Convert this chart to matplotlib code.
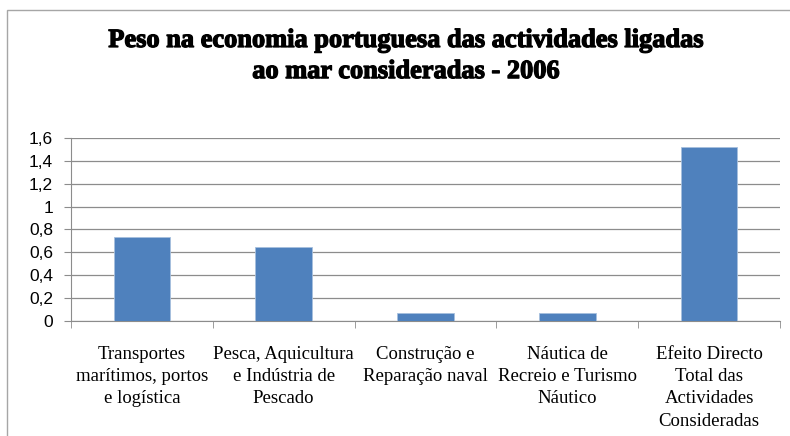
import matplotlib.pyplot as plt
import matplotlib.ticker
import matplotlib.patheffects as pe
from matplotlib.patches import Rectangle
import numpy as np

categories = [
    "Transportes\nmarítimos, portos\ne logística",
    "Pesca, Aquicultura\ne Indústria de\nPescado",
    "Construção e\nReparação naval",
    "Náutica de\nRecreio e Turismo\nNáutico",
    "Efeito Directo\nTotal das\nActividades\nConsideradas",
]
values = [0.73, 0.65, 0.07, 0.07, 1.52]
y_ticks = [0, 0.2, 0.4, 0.6, 0.8, 1.0, 1.2, 1.4, 1.6]

title = "Peso na economia portuguesa das actividades ligadas\nao mar consideradas - 2006"

bar_color = "#4F81BD"
grid_color = "#8C8C8C"
serif = ["Liberation Serif", "DejaVu Serif"]

fig = plt.figure(figsize=(7.9, 4.36), dpi=100)
fig.patch.set_facecolor("white")

# outer chart border (cropped on right and bottom in the original)
fig.patches.append(Rectangle((7 / 790, -0.05), 1.0, 1 - 10 / 436 + 0.05,
                             transform=fig.transFigure, fill=False,
                             edgecolor="#A6A6A6", linewidth=1.0))

ax = fig.add_axes([71 / 790, 0.2638, 709 / 790, 0.4197])
x = np.arange(len(values))
ax.bar(x, values, width=0.4, color=bar_color, edgecolor="#A7C0DE",
       linewidth=0.6, zorder=3)

ax.set_xlim(-0.5, len(values) - 0.5)
ax.set_ylim(0, 1.6)
ax.set_yticks(y_ticks)
ax.yaxis.set_major_formatter(matplotlib.ticker.FuncFormatter(
    lambda v, p: ("%g" % round(v, 1)).replace(".", ",")))
ax.grid(axis="y", color=grid_color, linewidth=0.9, zorder=0)

ax.set_xticks(x)
ax.set_xticklabels(categories, fontsize=13.5, fontfamily=serif)
for t in ax.get_xticklabels():
    t.set_linespacing(1.4)
ax.set_xticks(np.arange(len(values) + 1) - 0.5, minor=True)
ax.tick_params(axis="x", which="major", length=0, pad=18)
ax.tick_params(axis="x", which="minor", length=5, color=grid_color, direction="out")
ax.tick_params(axis="y", length=5, color=grid_color, pad=8)
for t in ax.get_yticklabels():
    t.set_fontfamily(["Liberation Sans", "DejaVu Sans"])
    t.set_fontsize(12.5)

for side in ["top", "right"]:
    ax.spines[side].set_visible(False)
ax.spines["left"].set_color(grid_color)
ax.spines["bottom"].set_color(grid_color)

fig.text(406 / 790, 1 - 29 / 436, title, ha="center", va="top",
         fontsize=19, fontweight="bold", linespacing=1.45,
         fontfamily=serif,
         path_effects=[pe.withStroke(linewidth=0.9, foreground="black")])

fig.savefig("out.png", dpi=100)
